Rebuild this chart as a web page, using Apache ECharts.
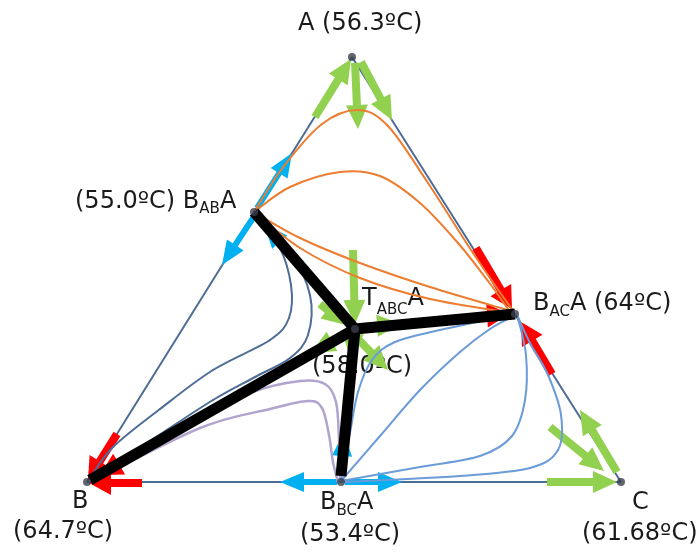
<!DOCTYPE html>
<html>
<head>
<meta charset="utf-8">
<script src="https://cdn.jsdelivr.net/npm/echarts@6/dist/echarts.min.js"></script>
<style>
  html, body { margin: 0; padding: 0; background: #ffffff; }
  #chart { width: 700px; height: 554px; }
</style>
</head>
<body>
<div id="chart"></div>
<script>
// Residue curve map of the ternary system A / B / C with its azeotropes.
// Plane units: x to the right, y downward (the y axis is inverted).

// Pure components, binary azeotropes and the ternary azeotrope
const nodeNames = ['A', 'B', 'C', 'BAB', 'BAC', 'BBC', 'TABC'];
const nodeX = [352, 87, 621, 254, 515, 341, 355];
const nodeY = [57, 482, 482, 212, 314, 482, 329];

// Triangle edges A-B-C-A
const edgePath = [[352, 57], [87, 482], [621, 482], [352, 57]];

// Distillation boundaries from the ternary azeotrope
const boundaries = [
  [[254, 212], [355, 329]],
  [[355, 329], [515, 314]],
  [[355, 329], [90, 480]],
  [[355, 329], [341, 476]]
];

// Residue curves, region B_AB A -> B_AC A
const orange1 = [[254, 212], [284, 166], [322, 124], [358, 110], [388, 126], [428, 183], [473, 253], [513, 311]];
const orange2 = [[254, 212], [290, 187], [340, 172], [380, 176], [420, 203], [458, 243], [488, 281], [508, 309]];
const orange3 = [[254, 212], [300, 238], [360, 263], [430, 287], [511, 311]];
const orange4 = [[254, 212], [300, 248], [360, 278], [430, 299], [512, 313]];

// Residue curves, region B_AB A -> B
const slate1 = [[254, 212], [279, 246], [291, 285], [289, 318], [270, 340], [213, 370], [160, 409], [113, 447], [90, 478]];
const slate2 = [[254, 212], [290, 252], [310, 295], [308, 335], [290, 358], [255, 377], [213, 400], [150, 441], [92, 479]];

// Residue curves, region B -> B_BC A
const lilac1 = [[92, 480], [180, 428], [250, 393], [300, 381], [325, 384], [336, 402], [339, 440], [340, 481]];
const lilac2 = [[92, 481], [200, 428], [270, 409], [308, 401], [322, 408], [329, 435], [333, 462], [338, 482]];

// Residue curves, region B_BC A -> B_AC A
const sky1 = [[341, 481], [350, 433], [358, 392], [372, 360], [395, 342], [440, 330], [514, 314]];
const sky2 = [[341, 481], [380, 436], [420, 390], [460, 352], [490, 329], [516, 315]];
const sky3 = [[341, 481], [420, 467], [480, 456], [512, 436], [525, 400], [526, 355], [518, 318]];
const sky4 = [[341, 482], [460, 476], [530, 468], [558, 450], [561, 415], [548, 375], [530, 343], [518, 317]];

// Direction arrows: [x tail, y tail, x tip, y tip]
const greenArrows = [
  [315, 117, 351, 59], [355, 63, 358, 129], [361, 62, 392, 120],
  [353, 250, 355, 324], [320, 304, 346, 325], [362, 327, 401, 324],
  [345, 334, 311, 353], [358, 339, 388, 370], [353, 333, 350, 357],
  [550, 427, 604, 471], [617, 472, 580, 410], [547, 482, 617, 482]
];
const blueArrows = [
  [257, 208, 292, 153], [255, 215, 222, 265],
  [337, 482, 280, 482], [345, 482, 402, 482],
  [297, 262, 264, 224], [341, 470, 344, 432]
];
const redArrows = [
  [476, 248, 512, 309], [552, 374, 521, 322],
  [117, 434, 88, 480], [142, 483, 89, 483],
  [480, 316, 509, 314], [140, 452, 100, 475]
];

// Text labels: parts are [text, font size, baseline shift]
const labelDefs = [
  { x: 298, y: 24, parts: [['A (56.3ºC)', 24, 0]] },
  { x: 75, y: 202, parts: [['(55.0ºC) B', 24, 0], ['AB', 15, 7], ['A', 24, 0]] },
  { x: 362, y: 299, parts: [['T', 24, 0], ['ABC', 15, 11], ['A', 24, 0]] },
  { x: 312, y: 367, parts: [['(58.0ºC)', 24, 0]] },
  { x: 533, y: 304, parts: [['B', 24, 0], ['AC', 15, 8], ['A (64ºC)', 24, 0]] },
  { x: 72, y: 502, parts: [['B', 24, 0]] },
  { x: 13, y: 532, parts: [['(64.7ºC)', 24, 0]] },
  { x: 320, y: 503, parts: [['B', 24, 0], ['BC', 15, 8], ['A', 24, 0]] },
  { x: 300, y: 535, parts: [['(53.4ºC)', 24, 0]] },
  { x: 632, y: 503, parts: [['C', 24, 0]] },
  { x: 582, y: 534, parts: [['(61.68ºC)', 24, 0]] }
];

const FONT = '"DejaVu Sans", sans-serif';
const measureCtx = document.createElement('canvas').getContext('2d');
function textWidth(t, size) {
  measureCtx.font = size + 'px ' + FONT;
  return measureCtx.measureText(t).width;
}

const graphics = [];
labelDefs.forEach(function (lab) {
  let x = lab.x;
  lab.parts.forEach(function (p) {
    graphics.push({
      type: 'text', x: x, y: lab.y + p[2], z: 0, silent: true,
      style: { text: p[0], fontSize: p[1], fontFamily: FONT, fill: '#1a1a1a', verticalAlign: 'middle', align: 'left' }
    });
    x += textWidth(p[0], p[1]);
  });
});

// A residue curve drawn as a Catmull-Rom spline through its points:
// every data item renders the cubic segment from its point to the next one.
function curve(data, color, width) {
  return {
    type: 'custom', coordinateSystem: 'cartesian2d', data: data, silent: true, z: 4,
    encode: { x: 0, y: 1 },
    renderItem: function (params, api) {
      const i = params.dataIndexInside;
      const n = params.dataInsideLength;
      if (i >= n - 1) return null;
      const pt = function (k) {
        k = Math.max(0, Math.min(n - 1, k));
        return api.coord([api.value(0, k), api.value(1, k)]);
      };
      const p0 = pt(i - 1), p1 = pt(i), p2 = pt(i + 1), p3 = pt(i + 2);
      return {
        type: 'bezierCurve',
        shape: {
          x1: p1[0], y1: p1[1], x2: p2[0], y2: p2[1],
          cpx1: p1[0] + (p2[0] - p0[0]) / 6, cpy1: p1[1] + (p2[1] - p0[1]) / 6,
          cpx2: p2[0] - (p3[0] - p1[0]) / 6, cpy2: p2[1] - (p3[1] - p1[1]) / 6
        },
        style: { stroke: color, lineWidth: width, fill: null, lineCap: 'round' }
      };
    }
  };
}

function arrowSeries(data, color, sw, hw, hl) {
  return {
    type: 'custom', coordinateSystem: 'cartesian2d', data: data, silent: true, z: 3,
    encode: { x: [0, 2], y: [1, 3] },
    renderItem: function (params, api) {
      const t = api.coord([api.value(0), api.value(1)]);
      const p = api.coord([api.value(2), api.value(3)]);
      const dx = p[0] - t[0], dy = p[1] - t[1];
      const L = Math.hypot(dx, dy);
      const ux = dx / L, uy = dy / L, nx = -uy, ny = ux;
      const h = Math.min(hl, L);
      const bx = p[0] - ux * h, by = p[1] - uy * h;
      const pts = [
        [t[0] + nx * sw / 2, t[1] + ny * sw / 2],
        [bx + nx * sw / 2, by + ny * sw / 2],
        [bx + nx * hw / 2, by + ny * hw / 2],
        [p[0], p[1]],
        [bx - nx * hw / 2, by - ny * hw / 2],
        [bx - nx * sw / 2, by - ny * sw / 2],
        [t[0] - nx * sw / 2, t[1] - ny * sw / 2]
      ];
      return { type: 'polygon', shape: { points: pts }, style: { fill: color } };
    }
  };
}

const chart = echarts.init(document.getElementById('chart'), null, { renderer: 'canvas' });
chart.setOption({
  animation: false,
  backgroundColor: '#ffffff',
  grid: { left: 0, right: 0, top: 0, bottom: 0 },
  xAxis: { type: 'value', min: 0, max: 700, show: false },
  yAxis: { type: 'value', min: 0, max: 554, inverse: true, show: false },
  graphic: graphics,
  series: [
    { type: 'line', data: edgePath, symbol: 'none', silent: true, z: 1,
      lineStyle: { color: '#4e6d96', width: 2 } },
    arrowSeries(greenArrows, '#92d050', 8, 22, 24),
    arrowSeries(blueArrows, '#00b0f0', 6, 20, 24),
    arrowSeries(redArrows, '#ff0000', 8, 24, 22),
    curve(orange1, '#ed7d31', 2),
    curve(orange2, '#ed7d31', 2),
    curve(orange3, '#ed7d31', 2),
    curve(orange4, '#ed7d31', 2),
    curve(slate1, '#4e6d96', 2),
    curve(slate2, '#4e6d96', 2),
    curve(lilac1, '#b1a4cf', 2.5),
    curve(lilac2, '#b1a4cf', 2.5),
    curve(sky1, '#6b9bd8', 2),
    curve(sky2, '#6b9bd8', 2),
    curve(sky3, '#6b9bd8', 2),
    curve(sky4, '#6b9bd8', 2),
    { type: 'lines', coordinateSystem: 'cartesian2d', silent: true, z: 5,
      data: boundaries.map(function (c) { return { coords: c }; }),
      lineStyle: { color: '#000000', width: 11, opacity: 1 } },
    { type: 'scatter', silent: true, z: 6, symbolSize: 8,
      data: nodeX.map(function (x, i) { return { name: nodeNames[i], value: [x, nodeY[i]] }; }),
      itemStyle: { color: '#3a404c' } }
  ]
});
</script>
</body>
</html>
